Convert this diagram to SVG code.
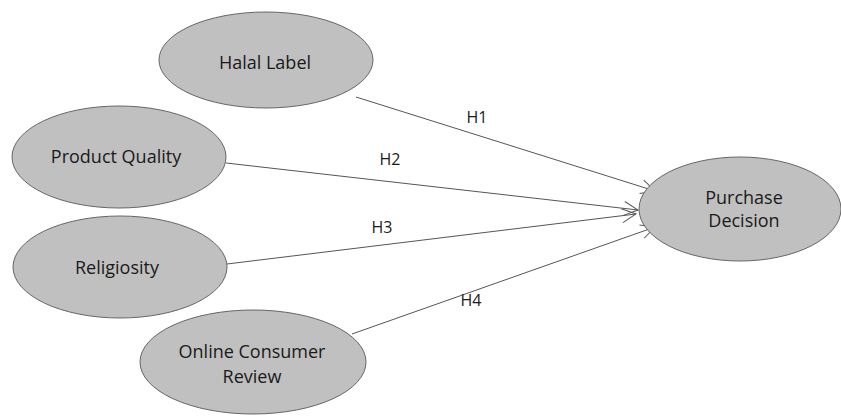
<svg xmlns="http://www.w3.org/2000/svg" width="841" height="417" viewBox="0 0 841 417">
<style>
.n{fill:#c0c0c0;stroke:#666;stroke-width:1}
.t{font-family:"Open Sans","Liberation Sans",sans-serif;font-size:18px;fill:#1a1a1a;text-anchor:middle}
.h{font-family:"Open Sans","Liberation Sans",sans-serif;font-size:16px;fill:#1a1a1a;text-anchor:middle}
.e{stroke:#555;stroke-width:1;fill:none;marker-end:url(#a)}
</style>
<defs>
<marker id="a" viewBox="0 0 20 20" refX="18" refY="10" markerWidth="20" markerHeight="20" markerUnits="userSpaceOnUse" orient="auto">
<path d="M4,3 L18,10 L4,17" fill="none" stroke="#555" stroke-width="1"/>
</marker>
</defs>
<rect width="841" height="417" fill="#fff"/>
<g id="connectors">
<line class="e" x1="356" y1="97" x2="655" y2="191"/>
<line class="e" x1="226" y1="163" x2="638" y2="210"/>
<line class="e" x1="227" y1="264" x2="636" y2="214"/>
<line class="e" x1="352" y1="334" x2="655" y2="227"/>
<text class="h" x="477" y="123">H1</text>
<text class="h" x="390" y="165">H2</text>
<text class="h" x="382" y="233">H3</text>
<text class="h" x="471" y="306">H4</text>
</g>
<g id="halal"><ellipse class="n" cx="266" cy="60" rx="107" ry="48"/><text class="t" x="265" y="69">Halal Label</text></g>
<g id="quality"><ellipse class="n" cx="119" cy="157" rx="107" ry="51"/><text class="t" x="116" y="163">Product Quality</text></g>
<g id="religiosity"><ellipse class="n" cx="120" cy="267" rx="107" ry="51"/><text class="t" x="117" y="274">Religiosity</text></g>
<g id="review"><ellipse class="n" cx="253" cy="362" rx="113" ry="52"/><text class="t" x="252" y="358">Online Consumer</text><text class="t" x="252" y="383">Review</text></g>
<g id="purchase"><ellipse class="n" cx="740" cy="209" rx="101" ry="52"/><text class="t" x="744" y="204">Purchase</text><text class="t" x="744" y="227">Decision</text></g>
</svg>
